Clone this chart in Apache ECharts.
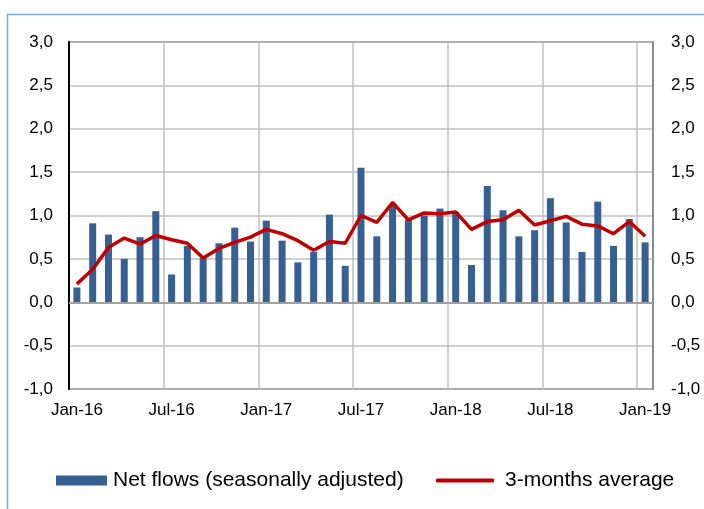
<!DOCTYPE html>
<html>
<head>
<meta charset="utf-8">
<script src="https://cdn.jsdelivr.net/npm/echarts@6/dist/echarts.min.js"></script>
<style>
html,body{margin:0;padding:0;background:#fff;}
#chart{width:704px;height:509px;}
</style>
</head>
<body>
<div id="chart"></div>
<script>
const months = ['Jan-16','Feb-16','Mar-16','Apr-16','May-16','Jun-16','Jul-16','Aug-16','Sep-16','Oct-16','Nov-16','Dec-16',
'Jan-17','Feb-17','Mar-17','Apr-17','May-17','Jun-17','Jul-17','Aug-17','Sep-17','Oct-17','Nov-17','Dec-17',
'Jan-18','Feb-18','Mar-18','Apr-18','May-18','Jun-18','Jul-18','Aug-18','Sep-18','Oct-18','Nov-18','Dec-18','Jan-19'];
const netFlows = [0.17,0.91,0.78,0.50,0.75,1.05,0.32,0.65,0.51,0.68,0.86,0.70,
0.94,0.71,0.46,0.58,1.01,0.42,1.55,0.76,1.11,0.95,1.00,1.08,
1.04,0.43,1.34,1.06,0.76,0.83,1.20,0.92,0.58,1.16,0.65,0.96,0.69];
const avg3m = [0.21,0.38,0.63,0.74,0.67,0.77,0.72,0.68,0.51,0.62,0.69,0.75,
0.84,0.79,0.71,0.60,0.70,0.68,1.00,0.92,1.15,0.95,1.03,1.02,
1.04,0.84,0.93,0.95,1.06,0.89,0.94,0.99,0.90,0.88,0.79,0.93,0.76];
const seriesNames = ['Net flows (seasonally adjusted)','3-months average'];

const FONT = "'Liberation Sans', Arial, sans-serif";
const fmt = v => v.toFixed(1).replace('.', ',');
const chart = echarts.init(document.getElementById('chart'), null, {renderer:'canvas'});
chart.setOption({
  animation:false,
  backgroundColor:'#fff',
  textStyle:{fontFamily:FONT},
  graphic:[{
    type:'rect', shape:{x:7.5,y:14.5,width:720,height:520},
    style:{fill:'none',stroke:'#7ba7dc',lineWidth:1.5}, silent:true, z:-10
  }],
  grid:{left:69,right:51,top:42,height:347,show:true,borderColor:'#505050',borderWidth:1.5,backgroundColor:'transparent'},
  legend:[{
    data:[seriesNames[0]], left:56, top:470, padding:0, icon:'rect', itemWidth:51, itemHeight:10,
    textStyle:{fontFamily:FONT,fontSize:21,color:'#000',padding:[0,0,0,1]}
  },{
    data:[{name:seriesNames[1], icon:'roundRect'}], left:436, top:470, padding:0, itemWidth:58, itemHeight:4,
    itemStyle:{color:'#c00000'},
    textStyle:{fontFamily:FONT,fontSize:21,color:'#000',padding:[0,0,0,6]}
  }],
  xAxis:{
    type:'category', data:months, boundaryGap:true,
    axisLine:{show:false}, axisTick:{show:false},
    axisLabel:{interval:5, margin:13, fontFamily:FONT, fontSize:17, color:'#000'},
    splitLine:{show:true, interval:5, lineStyle:{color:'#bfbfbf',width:1.5}}
  },
  yAxis:[{
    type:'value', min:-1, max:3, interval:0.5, position:'left',
    axisLine:{show:true, lineStyle:{color:'#000',width:2}}, axisTick:{show:false},
    axisLabel:{formatter:fmt, margin:16, fontFamily:FONT, fontSize:17, color:'#000'},
    splitLine:{show:true, lineStyle:{color:'#bfbfbf',width:1.5}}
  },{
    type:'value', min:-1, max:3, interval:0.5, position:'right',
    axisLine:{show:true, lineStyle:{color:'#808080',width:1.5}}, axisTick:{show:false},
    axisLabel:{formatter:fmt, margin:18, fontFamily:FONT, fontSize:17, color:'#000'},
    splitLine:{show:false}
  }],
  series:[{
    name:seriesNames[0], type:'bar', data:netFlows, barWidth:7,
    itemStyle:{color:'#376092'},
    markLine:{silent:true, symbol:'none', label:{show:false},
      lineStyle:{color:'#a0a0a0',width:2,type:'solid'}, data:[{yAxis:0}]}
  },{
    name:seriesNames[1], type:'line', data:avg3m, symbol:'none', showSymbol:false,
    lineStyle:{color:'#c00000',width:3.5}, itemStyle:{color:'#c00000'}, z:5
  }]
});
</script>
</body>
</html>
